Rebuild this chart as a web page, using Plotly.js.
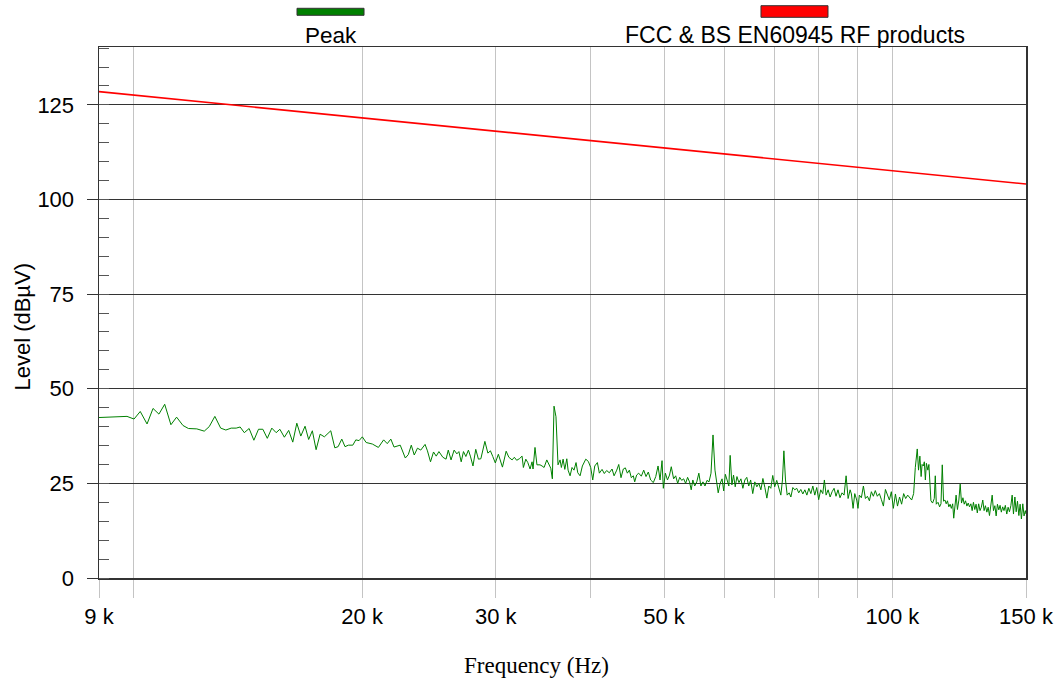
<!DOCTYPE html>
<html>
<head>
<meta charset="utf-8">
<script src="https://cdn.plot.ly/plotly-3.0.1.min.js"></script>
<style>
  html, body { margin: 0; padding: 0; background: #ffffff; }
  #chart { width: 1061px; height: 683px; }
</style>
</head>
<body>
<div id="chart"></div>
<script>
// Conducted emission scan, 9 kHz - 150 kHz, peak detector (Hz, dBuV)
const peakFreq = [
  9000, 9317, 9556, 9798, 10010, 10200, 10413, 10604, 10795, 10986,
  11195, 11390, 11612, 11807, 12110, 12387, 12576, 12792, 13020, 13226,
  13443, 13648, 13812, 13988, 14194, 14401, 14604, 14798, 15000, 15206,
  15408, 15582, 15797, 16005, 16205, 16405, 16605, 16820, 17005, 17197,
  17394, 17606, 17835, 18185, 18410, 18596, 18804, 18989, 19184, 19444,
  19622, 19817, 20013, 20248, 20631, 21013, 21350, 21586, 21822, 22035,
  22453, 22802, 23011, 23220, 23429, 23659, 23896, 24212, 24387, 24614,
  24841, 25046, 25251, 25554, 25804, 25978, 26197, 26443, 26664, 26828,
  27017, 27205, 27402, 27615, 27779, 28000, 28238, 28467, 28678, 29031,
  29295, 29524, 29736, 29965, 30244, 30620, 30967, 31221, 31531, 31747,
  31972, 32230, 32500, 32630, 32870, 33070, 33300, 33500, 33600, 33800,
  34000, 34319, 34532, 34745, 35032, 35277, 35458, 35628, 35809, 36022,
  36247, 36472, 36618, 36809, 37000, 37225, 37371, 37596, 37821, 38047,
  38284, 38485, 38757, 39029, 39431, 39739, 40025, 40273, 40522, 40845,
  41093, 41428, 41714, 42013, 42353, 42706, 42967, 43320, 43581, 43882,
  44191, 44463, 44735, 45007, 45279, 45552, 45742, 46014, 46300, 46672,
  47015, 47343, 47672, 48015, 48403, 48761, 49105, 49403, 49702, 49896,
  50207, 50525, 50844, 51114, 51481, 51799, 52117, 52436, 52754, 53073,
  53391, 53709, 54028, 54298, 54569, 54887, 55226, 55575, 55923, 56272,
  56620, 56968, 57317, 57665, 58014, 58362, 58641, 58937, 59285, 59634,
  59930, 60227, 60549, 60871, 61117, 61439, 61742, 62064, 62386, 62765,
  63144, 63523, 63902, 64280, 64659, 65041, 65451, 65861, 66270, 66680,
  67090, 67500, 67910, 68319, 68729, 69139, 69549, 69959, 70397, 70837,
  71278, 71630, 71939, 72291, 72666, 73106, 73481, 73921, 74362, 74803,
  75258, 75728, 76197, 76666, 77136, 77605, 78075, 78544, 79013, 79483,
  79952, 80450, 80950, 81350, 81775, 82275, 82775, 83275, 83775, 84275,
  84775, 85293, 85825, 86357, 86889, 87421, 87953, 88298, 88751, 89203,
  89735, 90084, 90449, 91011, 91573, 92135, 92697, 93258, 93820, 94382,
  94944, 95533, 96124, 96716, 97308, 97900, 98492, 99083, 99675, 100287,
  100924, 101561, 102198, 102835, 103472, 104109, 104746, 105383, 106020, 106657,
  107198, 107835, 108249, 108695, 109109, 109427, 109841, 110174, 110523, 110871,
  111359, 111707, 112056, 112404, 112961, 113554, 113902, 114250, 114843, 115400,
  115888, 116341, 116794, 117282, 117735, 118188, 118676, 119129, 119582, 120076,
  120455, 120833, 121326, 121818, 122348, 122841, 123333, 123864, 124356, 124848,
  125379, 125871, 126364, 126894, 127386, 127879, 128409, 128902, 129394, 129924,
  130451, 130984, 131557, 132090, 132623, 133197, 133730, 134262, 134836, 135369,
  135902, 136475, 137008, 137541, 138115, 138648, 139180, 139754, 140308, 140881,
  141498, 142070, 142643, 143260, 143833, 144405, 145022, 145595, 146167, 146784,
  147357, 147930, 148546, 149119, 149692, 150000
];
const peakLevel = [
  42.4, 42.5, 42.6, 42.7, 42.0, 44.0, 40.7, 44.8, 43.3, 45.9,
  40.5, 42.5, 40.3, 39.5, 39.4, 38.8, 40.0, 42.7, 39.6, 39.1,
  39.6, 39.6, 39.9, 38.4, 39.5, 36.4, 39.3, 39.3, 36.9, 39.6,
  38.4, 39.3, 37.2, 39.0, 35.9, 40.9, 37.5, 40.1, 36.6, 38.9,
  33.9, 38.0, 37.3, 38.9, 34.4, 34.7, 36.7, 34.7, 35.1, 35.1,
  36.5, 36.3, 37.3, 35.8, 35.4, 34.5, 36.5, 35.5, 36.7, 34.6,
  35.1, 31.7, 32.6, 35.1, 32.5, 34.3, 33.8, 35.3, 33.6, 30.7,
  33.3, 32.2, 33.4, 31.9, 31.4, 33.8, 31.2, 33.8, 32.8, 33.4,
  30.7, 33.4, 32.1, 33.8, 32.2, 29.6, 34.0, 31.4, 31.5, 36.1,
  33.0, 33.6, 32.1, 30.4, 32.7, 29.3, 33.5, 31.9, 31.2, 31.9,
  31.1, 31.5, 32.2, 29.2, 31.4, 30.5, 28.8, 30.7, 28.8, 34.5,
  29.9, 29.9, 29.6, 29.2, 31.2, 29.9, 29.0, 26.2, 45.4, 42.6,
  29.9, 31.2, 29.2, 31.4, 28.7, 31.5, 28.5, 27.0, 29.2, 28.5,
  30.5, 27.8, 27.0, 29.6, 31.4, 30.8, 29.2, 25.9, 29.6, 30.5,
  27.7, 28.7, 27.6, 28.4, 27.8, 28.8, 27.0, 28.5, 30.0, 26.5,
  28.8, 29.1, 27.7, 28.5, 26.5, 27.0, 25.4, 27.2, 27.7, 26.9,
  28.5, 26.8, 28.0, 25.9, 25.2, 26.8, 29.6, 25.9, 31.0, 23.7,
  27.7, 25.9, 27.2, 29.4, 26.2, 27.0, 25.0, 26.6, 25.8, 26.2,
  25.0, 26.6, 25.4, 23.3, 25.9, 24.3, 25.4, 27.7, 24.3, 25.4,
  24.3, 25.8, 25.4, 27.7, 37.8, 28.5, 25.9, 22.5, 25.0, 26.2,
  23.0, 27.4, 25.9, 24.3, 32.4, 24.6, 27.2, 24.1, 26.8, 25.2,
  26.2, 23.7, 25.9, 26.6, 24.3, 25.9, 22.3, 25.4, 24.1, 25.0,
  23.3, 26.3, 23.9, 21.1, 24.3, 23.7, 27.1, 24.1, 25.8, 23.6,
  21.9, 25.9, 33.6, 25.9, 21.9, 22.5, 21.4, 23.9, 23.3, 23.7,
  22.5, 23.4, 22.2, 23.3, 21.9, 23.7, 22.3, 24.3, 21.9, 23.9,
  20.7, 23.3, 22.3, 25.9, 21.9, 23.3, 21.4, 22.8, 23.7, 21.6,
  23.3, 21.2, 22.5, 21.9, 27.0, 21.0, 23.3, 22.2, 18.4, 22.3,
  20.6, 18.4, 21.9, 21.2, 24.3, 21.0, 21.6, 20.4, 22.8, 21.6,
  23.1, 21.6, 22.3, 20.7, 19.0, 23.4, 21.9, 20.6, 22.8, 18.4,
  22.2, 19.0, 21.4, 19.5, 22.3, 21.0, 21.9, 21.2, 20.6, 22.3,
  29.2, 34.1, 28.5, 32.2, 26.8, 30.0, 29.6, 30.7, 25.9, 30.3,
  28.5, 30.0, 25.9, 20.4, 19.8, 21.0, 27.0, 19.5, 20.0, 18.8,
  19.6, 29.9, 20.3, 20.6, 19.6, 20.4, 18.8, 19.5, 18.4, 19.6,
  15.8, 19.5, 21.9, 18.1, 20.6, 24.8, 19.8, 21.2, 19.5, 20.4,
  19.0, 19.8, 18.8, 19.6, 17.8, 20.0, 18.1, 19.5, 17.2, 19.6,
  17.8, 18.7, 20.6, 17.8, 19.1, 17.4, 18.7, 16.5, 19.6, 21.9,
  17.8, 19.1, 16.4, 19.5, 18.0, 19.2, 17.4, 18.8, 17.8, 19.2,
  16.9, 18.7, 17.5, 19.1, 21.9, 16.9, 21.4, 17.5, 20.3, 16.5,
  19.5, 15.6, 19.6, 16.4, 17.8, 16.9
];

// Limit line, straight on the log-frequency scale
const limitFreq = [9000, 150000];
const limitLevel = [128.5, 104.1];

const xTickVals = [9000, 10000, 20000, 30000, 40000, 50000, 60000, 70000, 80000, 90000, 100000, 150000];
const xTickText = ['9 k', '', '20 k', '30 k', '', '50 k', '', '', '', '', '100 k', '150 k'];

const seriesNames = ['Peak', 'FCC & BS EN60945 RF products'];
const seriesColors = ['#008000', '#ff0000'];

const sans = 'Liberation Sans, Arial, Helvetica, sans-serif';
const serif = 'Liberation Serif, Times New Roman, serif';

const traces = [
  {
    x: peakFreq, y: peakLevel, type: 'scatter', mode: 'lines',
    name: seriesNames[0], line: { color: seriesColors[0], width: 1 },
    hoverinfo: 'x+y'
  },
  {
    x: limitFreq, y: limitLevel, type: 'scatter', mode: 'lines',
    name: seriesNames[1], line: { color: seriesColors[1], width: 1.6 },
    hoverinfo: 'x+y'
  }
];

const layout = {
  width: 1061, height: 683, autosize: false,
  margin: { l: 99, r: 35, t: 47, b: 105, pad: 0 },
  paper_bgcolor: '#ffffff', plot_bgcolor: '#ffffff',
  showlegend: false,
  font: { family: sans, size: 22, color: '#000000' },
  xaxis: {
    type: 'log',
    range: [Math.log10(9000), Math.log10(150000)],
    tickmode: 'array', tickvals: xTickVals, ticktext: xTickText,
    ticks: 'outside', ticklen: 18, tickwidth: 1, tickcolor: '#c4c4c4',
    ticklabelstandoff: 0,
    showgrid: true, gridcolor: '#c4c4c4', gridwidth: 1,
    showline: true, mirror: true, linecolor: '#333333', linewidth: 1.5,
    zeroline: false,
    tickfont: { family: sans, size: 22, color: '#000000' }
  },
  yaxis: {
    range: [0, 140.3],
    tickmode: 'linear', tick0: 0, dtick: 25,
    ticks: 'outside', ticklen: 11, tickwidth: 1, tickcolor: '#333333',
    ticklabelstandoff: 8,
    minor: { ticks: 'inside', dtick: 5, ticklen: 10, tickwidth: 1, tickcolor: '#555555', showgrid: false },
    showgrid: true, gridcolor: '#333333', gridwidth: 1,
    showline: true, mirror: true, linecolor: '#333333', linewidth: 1.5,
    zeroline: false,
    tickfont: { family: sans, size: 22, color: '#000000' }
  },
  shapes: [
    { type: 'rect', xref: 'paper', yref: 'paper', x0: 0.2136, x1: 0.2859, y0: 1.0597, y1: 1.0729,
      fillcolor: seriesColors[0], line: { color: '#333333', width: 1 } },
    { type: 'rect', xref: 'paper', yref: 'paper', x0: 0.7141, x1: 0.7864, y0: 1.0559, y1: 1.0778,
      fillcolor: seriesColors[1], line: { color: '#333333', width: 1 } }
  ],
  annotations: [
    { text: seriesNames[0], xref: 'paper', yref: 'paper', x: 0.2503, y: 1.0225,
      xanchor: 'center', yanchor: 'middle', showarrow: false,
      font: { family: sans, size: 22.5, color: '#000000' } },
    { text: seriesNames[1], xref: 'paper', yref: 'paper', x: 0.7503, y: 1.0225,
      xanchor: 'center', yanchor: 'middle', showarrow: false,
      font: { family: sans, size: 23, color: '#000000' } },
    { text: 'Frequency (Hz)', xref: 'paper', yref: 'paper', x: 0.4720, y: -0.1657,
      xanchor: 'center', yanchor: 'middle', showarrow: false,
      font: { family: serif, size: 23, color: '#000000' } },
    { text: 'Level (dBµV)', xref: 'paper', yref: 'paper', x: -0.0830, y: 0.4736,
      xanchor: 'center', yanchor: 'middle', textangle: -90, showarrow: false,
      font: { family: sans, size: 22, color: '#000000' } }
  ]
};

Plotly.newPlot('chart', traces, layout, { displayModeBar: false, staticPlot: true });
</script>
</body>
</html>
